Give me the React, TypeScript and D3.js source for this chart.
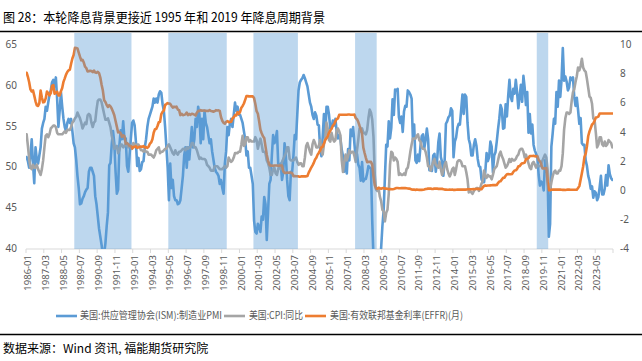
import React from "react";
import * as d3 from "d3";

// 美国:供应管理协会(ISM):制造业PMI, monthly 1986-01 .. 2024-06
const pmi = [
  51.3, 50.8, 50.0, 51.5, 53.5, 50.5, 48.1, 52.5, 51.0, 50.5, 51.5, 52.5,
  54.8, 55.5, 56.0, 57.5, 57.0, 58.0, 59.0, 59.5, 60.5, 60.8, 60.0, 61.1,
  58.5, 55.0, 57.0, 59.3, 57.5, 56.0, 55.0, 54.5, 55.5, 56.0, 55.5, 56.0,
  54.5, 53.0, 52.5, 51.0, 49.0, 47.5, 45.5, 45.6, 46.2, 46.5, 47.0, 47.3,
  47.5, 49.5, 50.0, 50.0, 49.5, 49.0, 46.5, 45.5, 44.0, 42.5, 41.5, 40.5,
  39.2, 39.4, 40.7, 42.8, 44.5, 50.3, 50.6, 52.9, 54.5, 53.0, 49.5, 46.8,
  47.3, 52.7, 54.6, 53.5, 55.7, 53.5, 53.6, 50.2, 49.5, 51.5, 53.5, 55.5,
  55.8, 55.2, 53.2, 50.2, 51.2, 49.6, 49.8, 50.7, 50.8, 52.5, 53.5, 55.0,
  56.0, 56.5, 57.0, 57.5, 58.5, 58.0, 58.5, 58.0, 59.0, 59.4, 59.2, 57.8,
  57.0, 55.0, 52.5, 50.0, 46.0, 50.5, 47.5, 48.5, 46.5, 46.0, 46.0, 45.5,
  45.6, 46.0, 47.5, 49.0, 51.5, 52.5, 50.0, 52.5, 51.0, 53.0, 55.0, 52.5,
  53.5, 56.0, 55.0, 57.5, 56.5, 53.0, 56.0, 53.5, 57.0, 55.5, 55.0, 54.0,
  53.0, 53.5, 52.0, 51.0, 50.0, 49.5, 49.3, 49.0, 48.0, 48.5, 47.5, 46.8,
  50.5, 52.0, 55.0, 54.0, 55.5, 56.0, 55.0, 56.5, 58.0, 57.0, 57.5, 56.5,
  56.5, 56.0, 55.5, 54.5, 53.5, 51.5, 52.0, 50.0, 50.0, 49.0, 48.0, 43.5,
  42.1, 41.9, 43.1, 42.7, 42.1, 44.0, 43.6, 46.4, 45.5, 41.1, 44.5, 48.0,
  48.5, 51.5, 54.0, 53.0, 53.5, 54.5, 50.5, 50.3, 50.5, 48.5, 49.5, 53.0,
  51.5, 48.5, 46.5, 46.0, 49.5, 49.5, 51.5, 54.0, 53.5, 56.5, 59.5, 60.5,
  60.8, 61.0, 61.4, 61.0, 60.5, 60.0, 59.0, 58.0, 57.5, 56.5, 56.0, 56.8,
  56.4, 55.3, 55.2, 52.3, 51.4, 53.8, 56.6, 53.6, 57.5, 57.5, 56.5, 54.8,
  54.8, 55.8, 55.2, 56.0, 54.5, 53.6, 54.0, 53.5, 52.2, 51.4, 49.5, 51.4,
  49.3, 52.3, 50.9, 54.7, 53.9, 55.0, 52.9, 51.1, 51.7, 50.4, 50.0, 48.4,
  50.7, 48.3, 48.6, 48.6, 49.3, 50.2, 50.0, 49.9, 43.5, 38.9, 36.2, 33.1,
  35.6, 35.8, 36.3, 40.1, 42.8, 44.8, 48.9, 52.8, 52.6, 55.7, 53.6, 54.9,
  58.4, 56.5, 59.6, 59.5, 59.7, 56.2, 55.5, 56.3, 54.4, 56.9, 57.6, 57.5,
  59.5, 59.3, 59.0, 58.5, 53.5, 55.3, 50.9, 50.6, 51.6, 50.8, 52.7, 53.9,
  54.1, 52.4, 53.4, 54.8, 53.5, 49.7, 49.8, 49.6, 51.5, 51.7, 49.5, 50.7,
  53.1, 54.2, 51.3, 50.7, 49.0, 50.9, 55.4, 55.7, 56.2, 56.4, 57.3, 57.0,
  51.3, 53.2, 53.7, 54.9, 55.4, 55.3, 57.1, 59.0, 56.6, 59.0, 58.7, 55.5,
  53.5, 52.9, 51.5, 51.5, 52.8, 53.5, 52.7, 51.1, 50.2, 50.1, 48.6, 48.2,
  48.2, 49.5, 51.8, 50.8, 51.3, 53.2, 52.6, 49.4, 51.5, 51.9, 53.2, 54.7,
  56.0, 57.7, 57.2, 54.8, 54.9, 57.8, 56.3, 58.8, 60.8, 58.7, 58.2, 59.7,
  59.1, 60.8, 59.3, 57.3, 58.7, 60.2, 58.1, 61.3, 59.8, 57.7, 59.3, 54.3,
  56.6, 54.2, 55.3, 52.8, 52.1, 51.7, 51.2, 49.1, 47.8, 48.3, 48.1, 47.2,
  50.9, 50.1, 49.1, 41.5, 43.1, 52.6, 54.2, 56.0, 55.4, 59.3, 57.5, 60.7,
  58.7, 60.8, 64.7, 60.7, 61.2, 60.6, 59.5, 59.9, 61.1, 60.8, 61.1, 58.7,
  57.6, 58.6, 57.1, 55.4, 56.1, 53.0, 52.8, 52.8, 50.9, 50.2, 49.0, 48.4,
  47.4, 47.7, 46.3, 47.1, 46.9, 46.0, 46.4, 47.6, 49.0, 46.7, 46.7, 47.4,
  49.1, 47.8, 50.3, 49.2, 48.7, 48.5,
];

// 美国:CPI:同比 (%)
const cpi = [
  3.9, 3.1, 2.2, 1.6, 1.5, 1.8, 1.6, 1.6, 1.8, 1.5, 1.3, 1.1,
  1.5, 2.1, 3.0, 3.8, 3.9, 3.7, 3.9, 4.3, 4.4, 4.5, 4.5, 4.4,
  4.0, 3.9, 3.9, 3.9, 3.9, 4.0, 4.1, 4.0, 4.2, 4.2, 4.2, 4.4,
  4.7, 4.8, 5.0, 5.1, 5.4, 5.2, 5.0, 4.7, 4.3, 4.5, 4.7, 4.6,
  5.2, 5.3, 5.2, 4.7, 4.4, 4.7, 4.8, 5.6, 6.2, 6.3, 6.3, 6.1,
  5.7, 5.3, 4.9, 4.9, 5.0, 4.7, 4.4, 3.8, 3.4, 2.9, 3.0, 3.1,
  2.6, 2.8, 3.2, 3.2, 3.0, 3.1, 3.2, 3.1, 3.0, 3.2, 3.0, 2.9,
  3.3, 3.2, 3.1, 3.2, 3.2, 3.0, 2.8, 2.8, 2.7, 2.8, 2.7, 2.7,
  2.5, 2.5, 2.5, 2.4, 2.3, 2.5, 2.8, 2.9, 3.0, 2.6, 2.7, 2.7,
  2.8, 2.9, 2.9, 3.1, 3.2, 3.0, 2.8, 2.6, 2.5, 2.8, 2.6, 2.5,
  2.7, 2.7, 2.8, 2.9, 2.9, 2.8, 3.0, 2.9, 3.0, 3.0, 3.3, 3.3,
  3.0, 3.0, 2.8, 2.5, 2.2, 2.3, 2.2, 2.2, 2.2, 2.1, 1.8, 1.7,
  1.6, 1.4, 1.4, 1.4, 1.7, 1.7, 1.7, 1.6, 1.5, 1.5, 1.5, 1.6,
  1.7, 1.6, 1.7, 2.3, 2.1, 2.0, 2.1, 2.3, 2.6, 2.6, 2.6, 2.7,
  2.7, 3.2, 3.8, 3.1, 3.2, 3.7, 3.7, 3.4, 3.5, 3.4, 3.4, 3.4,
  3.7, 3.5, 2.9, 3.3, 3.6, 3.2, 2.7, 2.7, 2.6, 2.1, 1.9, 1.6,
  1.1, 1.1, 1.5, 1.6, 1.2, 1.1, 1.5, 1.8, 1.5, 2.0, 2.2, 2.4,
  2.6, 3.0, 3.0, 2.2, 2.1, 2.1, 2.1, 2.2, 2.3, 2.0, 1.8, 1.9,
  1.9, 1.7, 1.7, 2.3, 3.1, 3.3, 3.0, 2.7, 2.5, 3.2, 3.5, 3.3,
  3.0, 3.0, 3.1, 3.5, 2.8, 2.5, 3.2, 3.6, 4.7, 4.3, 3.5, 3.4,
  4.0, 3.6, 3.4, 3.5, 4.2, 4.3, 4.1, 3.8, 2.1, 1.3, 2.0, 2.5,
  2.1, 2.4, 2.8, 2.6, 2.7, 2.7, 2.4, 2.0, 2.8, 3.5, 4.3, 4.1,
  4.3, 4.0, 4.0, 3.9, 4.2, 5.0, 5.6, 5.4, 4.9, 3.7, 1.1, 0.1,
  0.0, 0.2, -0.4, -0.7, -1.3, -1.4, -2.1, -1.5, -1.3, -0.2, 1.8, 2.7,
  2.6, 2.1, 2.3, 2.2, 2.0, 1.1, 1.2, 1.1, 1.1, 1.2, 1.1, 1.5,
  1.6, 2.1, 2.7, 3.2, 3.6, 3.6, 3.6, 3.8, 3.9, 3.5, 3.4, 3.0,
  2.9, 2.9, 2.7, 2.3, 1.7, 1.7, 1.4, 1.7, 2.0, 2.2, 1.8, 1.7,
  1.6, 2.0, 1.5, 1.1, 1.4, 1.8, 2.0, 1.5, 1.2, 1.0, 1.2, 1.5,
  1.6, 1.1, 1.5, 2.0, 2.1, 2.1, 2.0, 1.7, 1.7, 1.7, 1.3, 0.8,
  -0.1, 0.0, -0.1, -0.2, 0.0, 0.1, 0.2, 0.2, 0.0, 0.2, 0.5, 0.7,
  1.4, 1.0, 0.9, 1.1, 1.0, 1.0, 0.8, 1.1, 1.5, 1.6, 1.7, 2.1,
  2.5, 2.7, 2.4, 2.2, 1.9, 1.6, 1.7, 1.9, 2.2, 2.0, 2.2, 2.1,
  2.1, 2.2, 2.4, 2.5, 2.8, 2.9, 2.9, 2.7, 2.3, 2.5, 2.2, 1.9,
  1.6, 1.5, 1.9, 2.0, 1.8, 1.6, 1.8, 1.7, 1.7, 1.8, 2.1, 2.3,
  2.5, 2.3, 1.5, 0.3, 0.1, 0.6, 1.0, 1.3, 1.4, 1.2, 1.2, 1.4,
  1.4, 1.7, 2.6, 4.2, 5.0, 5.4, 5.4, 5.3, 5.4, 6.2, 6.8, 7.0,
  7.5, 7.9, 8.5, 8.3, 8.6, 9.1, 8.5, 8.3, 8.2, 7.7, 7.1, 6.5,
  6.4, 6.0, 5.0, 4.9, 4.0, 3.0, 3.2, 3.7, 3.7, 3.2, 3.1, 3.4,
  3.1, 3.2, 3.5, 3.4, 3.3, 3.0,
];

// 美国:有效联邦基金利率(EFFR)(月) (%)
const effr = [
  8.14, 7.86, 7.48, 6.99, 6.85, 6.92, 6.56, 6.17, 5.89, 5.85, 6.04, 6.91,
  6.43, 6.10, 6.13, 6.37, 6.85, 6.73, 6.58, 6.73, 7.22, 7.29, 6.69, 6.77,
  6.83, 6.58, 6.58, 6.87, 7.09, 7.51, 7.75, 8.01, 8.19, 8.30, 8.35, 8.76,
  9.12, 9.36, 9.85, 9.84, 9.81, 9.53, 9.24, 8.99, 9.02, 8.84, 8.55, 8.45,
  8.23, 8.24, 8.28, 8.26, 8.18, 8.29, 8.15, 8.13, 8.20, 8.11, 7.81, 7.31,
  6.91, 6.25, 6.12, 5.91, 5.78, 5.90, 5.82, 5.66, 5.45, 5.21, 4.81, 4.43,
  4.03, 4.06, 3.98, 3.73, 3.82, 3.76, 3.25, 3.30, 3.22, 3.10, 3.09, 2.92,
  3.02, 3.03, 3.07, 2.96, 3.00, 3.04, 3.06, 3.03, 3.09, 2.99, 3.02, 2.96,
  3.05, 3.25, 3.34, 3.56, 4.01, 4.25, 4.26, 4.47, 4.73, 4.76, 5.29, 5.45,
  5.53, 5.92, 5.98, 6.05, 6.01, 6.00, 5.85, 5.74, 5.80, 5.76, 5.80, 5.60,
  5.56, 5.22, 5.31, 5.22, 5.24, 5.27, 5.40, 5.22, 5.30, 5.24, 5.31, 5.29,
  5.25, 5.19, 5.39, 5.51, 5.50, 5.56, 5.52, 5.54, 5.54, 5.50, 5.52, 5.50,
  5.56, 5.51, 5.49, 5.45, 5.49, 5.56, 5.54, 5.55, 5.51, 5.07, 4.83, 4.68,
  4.63, 4.76, 4.81, 4.74, 4.74, 4.76, 4.99, 5.07, 5.22, 5.20, 5.42, 5.30,
  5.45, 5.73, 5.85, 6.02, 6.27, 6.53, 6.54, 6.50, 6.52, 6.51, 6.51, 6.40,
  5.98, 5.49, 5.31, 4.80, 4.21, 3.97, 3.77, 3.65, 3.07, 2.49, 2.09, 1.82,
  1.73, 1.74, 1.73, 1.75, 1.75, 1.75, 1.73, 1.74, 1.75, 1.75, 1.34, 1.24,
  1.24, 1.26, 1.25, 1.26, 1.26, 1.22, 1.01, 1.03, 1.01, 1.01, 1.00, 0.98,
  1.00, 1.01, 1.00, 1.00, 1.00, 1.03, 1.26, 1.43, 1.61, 1.76, 1.93, 2.16,
  2.28, 2.50, 2.63, 2.79, 3.00, 3.04, 3.26, 3.50, 3.62, 3.78, 4.00, 4.16,
  4.29, 4.49, 4.59, 4.79, 4.94, 4.99, 5.24, 5.25, 5.25, 5.25, 5.25, 5.24,
  5.25, 5.26, 5.26, 5.25, 5.25, 5.25, 5.26, 5.02, 4.94, 4.76, 4.49, 4.24,
  3.94, 2.98, 2.61, 2.28, 1.98, 2.00, 2.01, 2.00, 1.81, 0.97, 0.39, 0.16,
  0.15, 0.22, 0.18, 0.15, 0.18, 0.21, 0.16, 0.16, 0.15, 0.12, 0.12, 0.12,
  0.11, 0.13, 0.16, 0.20, 0.20, 0.18, 0.18, 0.19, 0.19, 0.19, 0.19, 0.18,
  0.17, 0.16, 0.14, 0.10, 0.09, 0.09, 0.07, 0.10, 0.08, 0.07, 0.08, 0.07,
  0.08, 0.10, 0.13, 0.14, 0.16, 0.16, 0.16, 0.13, 0.14, 0.16, 0.16, 0.16,
  0.14, 0.15, 0.14, 0.15, 0.11, 0.09, 0.09, 0.08, 0.08, 0.09, 0.08, 0.09,
  0.07, 0.07, 0.08, 0.09, 0.09, 0.10, 0.09, 0.09, 0.09, 0.09, 0.09, 0.12,
  0.11, 0.11, 0.11, 0.12, 0.12, 0.13, 0.13, 0.14, 0.14, 0.12, 0.12, 0.24,
  0.34, 0.38, 0.36, 0.37, 0.37, 0.38, 0.39, 0.40, 0.40, 0.40, 0.41, 0.54,
  0.65, 0.66, 0.79, 0.90, 0.91, 1.04, 1.15, 1.16, 1.15, 1.15, 1.16, 1.30,
  1.41, 1.42, 1.51, 1.69, 1.70, 1.82, 1.91, 1.91, 1.95, 2.19, 2.20, 2.27,
  2.40, 2.40, 2.41, 2.42, 2.39, 2.38, 2.40, 2.13, 2.04, 1.83, 1.55, 1.55,
  1.55, 1.58, 0.65, 0.05, 0.05, 0.08, 0.09, 0.10, 0.09, 0.09, 0.09, 0.09,
  0.09, 0.08, 0.07, 0.07, 0.06, 0.08, 0.10, 0.09, 0.08, 0.08, 0.08, 0.08,
  0.08, 0.08, 0.20, 0.33, 0.77, 1.21, 1.68, 2.33, 2.56, 3.08, 3.78, 4.10,
  4.33, 4.57, 4.65, 4.83, 5.06, 5.08, 5.12, 5.33, 5.33, 5.33, 5.33, 5.33,
  5.33, 5.33, 5.33, 5.33, 5.33, 5.33,
];

// rate-cut periods (shaded), first and last month
const cutStart = ["1989-03", "1995-05", "2000-12", "2007-08", "2019-07"];
const cutEnd = ["1992-11", "1999-02", "2003-10", "2008-12", "2020-03"];

const leftTicks = [40, 45, 50, 55, 60, 65];
const rightTicks = [-4, -2, 0, 2, 4, 6, 8, 10];
const seriesNames = ["美国:供应管理协会(ISM):制造业PMI", "美国:CPI:同比", "美国:有效联邦基金利率(EFFR)(月)"];
const seriesColors = ["#5B9BD5", "#A5A5A5", "#ED7D31"];

const W = 642;
const H = 361;
const plot = { left: 26, right: 613, top: 45.7, bottom: 249 };
const cjk = '"Microsoft YaHei", "Noto Sans CJK SC", sans-serif';
const axisColor = "#595959";

export default function App() {
  const fmt = d3.timeFormat("%Y-%m");
  const months = d3.timeMonth.range(new Date(1986, 0, 1), new Date(2024, 6, 1)).map(fmt);

  const x = d3.scaleBand<string>().domain(months).range([plot.left, plot.right]).padding(0);
  const yL = d3.scaleLinear().domain([40, 65]).range([plot.bottom, plot.top]);
  const yR = d3.scaleLinear().domain([-4, 10]).range([plot.bottom, plot.top]);
  const cx = (i: number) => (x(months[i]) as number) + x.bandwidth() / 2;

  const lineL = d3.line<number>().x((_, i) => cx(i)).y((d) => yL(d));
  const lineR = d3.line<number>().x((_, i) => cx(i)).y((d) => yR(d));
  const paths = [lineL(pmi), lineR(cpi), lineR(effr)];

  const tickIdx = d3.range(0, months.length, 14);

  // legend layout: sample line start, text start, text width
  const legend = [
    { x: 56, tx: 80, w: 142 },
    { x: 224, tx: 249, w: 54 },
    { x: 305, tx: 330, w: 133 },
  ];

  return (
    <div style={{ position: "absolute", left: 0, top: 0 }}>
      <svg width={W} height={H} style={{ display: "block", background: "#fff" }}>
        <defs>
          <clipPath id="plotClip">
            <rect x={plot.left} y={plot.top - 5} width={plot.right - plot.left} height={plot.bottom - plot.top + 5} />
          </clipPath>
        </defs>

        <text x={3} y={22} fontFamily={cjk} fontSize={13} fill="#000" textLength={322} lengthAdjust="spacingAndGlyphs">
          图 28：本轮降息背景更接近 1995 年和 2019 年降息周期背景
        </text>
        <line x1={0} x2={W} y1={31.5} y2={31.5} stroke="#000" strokeWidth={1.3} />

        {/* x axis */}
        <line x1={plot.left} x2={plot.right} y1={plot.bottom} y2={plot.bottom} stroke="#D9D9D9" strokeWidth={1} />
        {tickIdx.map((i) => (
          <line key={"t" + i} x1={x(months[i])} x2={x(months[i])} y1={plot.bottom} y2={plot.bottom + 4} stroke="#D9D9D9" />
        ))}
        <line x1={plot.right} x2={plot.right} y1={plot.bottom} y2={plot.bottom + 4} stroke="#D9D9D9" />
        {tickIdx.map((i) => {
          const tx = (x(months[i]) as number) + 2.5;
          return (
            <text
              key={"l" + i}
              transform={`translate(${tx},${plot.bottom + 6}) rotate(-90)`}
              textAnchor="end"
              dominantBaseline="middle"
              fontFamily='"Noto Sans", sans-serif'
              fontSize={9.5}
              fill={axisColor}
            >
              {months[i]}
            </text>
          );
        })}

        {/* y axes */}
        {leftTicks.map((t) => (
          <text key={"yl" + t} x={17} y={yL(t)} textAnchor="end" dominantBaseline="middle"
            fontFamily='"Noto Sans", sans-serif' fontSize={10} fill={axisColor}>
            {t}
          </text>
        ))}
        {rightTicks.map((t) => (
          <text key={"yr" + t} x={620} y={yR(t)} textAnchor="start" dominantBaseline="middle"
            fontFamily='"Noto Sans", sans-serif' fontSize={10} fill={axisColor}>
            {t}
          </text>
        ))}

        {/* series */}
        <g clipPath="url(#plotClip)">
          {paths.map((d, k) => (
            <path key={"s" + k} d={d || ""} fill="none" stroke={seriesColors[k]} strokeWidth={2.6}
              strokeLinejoin="round" strokeLinecap="round" />
          ))}
        </g>

        {/* shaded cut cycles, drawn on top */}
        {cutStart.map((s, k) => {
          const x0 = x(s) as number;
          const x1 = (x(cutEnd[k]) as number) + x.bandwidth();
          return (
            <rect key={"c" + k} x={x0} y={33} width={x1 - x0} height={plot.bottom - 33}
              fill="#5B9BD5" fillOpacity={0.4} />
          );
        })}

        {/* legend */}
        {seriesNames.map((n, k) => (
          <g key={"lg" + k}>
            <line x1={legend[k].x} x2={legend[k].x + 21} y1={316} y2={316} stroke={seriesColors[k]} strokeWidth={2.6} />
            <text x={legend[k].tx} y={316} dominantBaseline="middle" fontFamily={cjk} fontSize={10} fill={axisColor}
              textLength={legend[k].w} lengthAdjust="spacingAndGlyphs">
              {n}
            </text>
          </g>
        ))}

        <line x1={0} x2={W} y1={334.5} y2={334.5} stroke="#000" strokeWidth={1.3} />
        <text x={3} y={353} fontFamily={cjk} fontSize={12} fill="#000">
          数据来源：Wind 资讯, 福能期货研究院
        </text>
      </svg>
    </div>
  );
}
